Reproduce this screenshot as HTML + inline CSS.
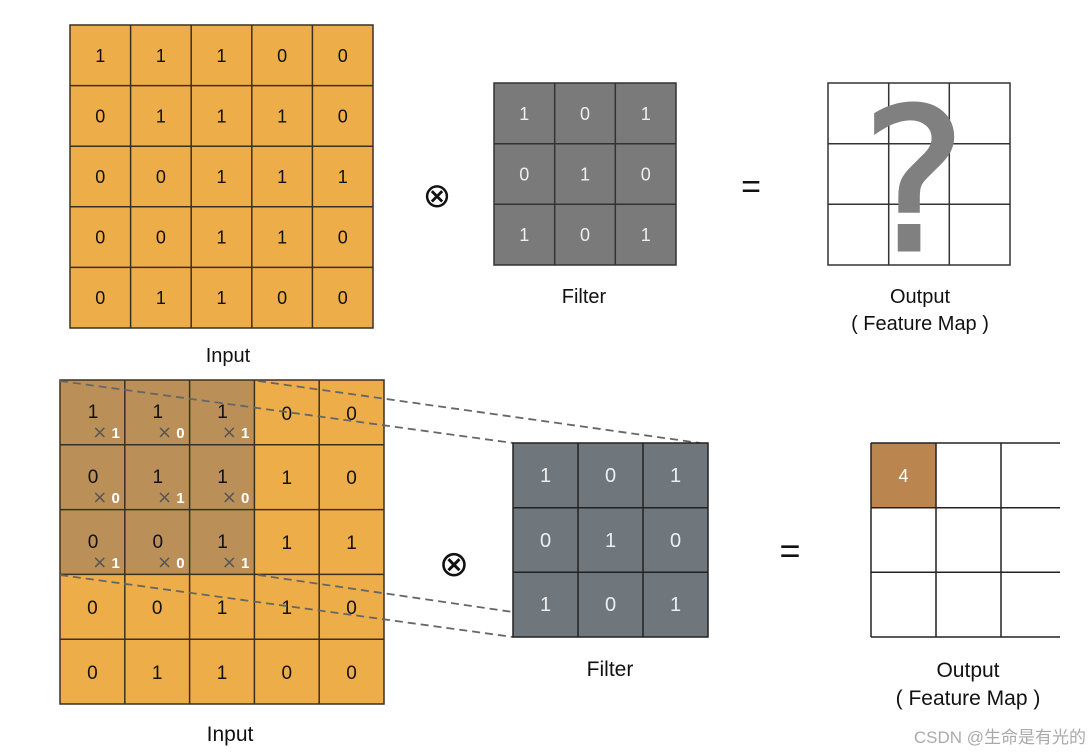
<!DOCTYPE html>
<html><head><meta charset="utf-8"><style>
html,body{margin:0;padding:0;background:#fff;width:1090px;height:752px;overflow:hidden}
svg{display:block}
text{font-family:"Liberation Sans",Arial,sans-serif}
</style></head><body>
<svg width="1090" height="752" viewBox="0 0 1090 752" xmlns="http://www.w3.org/2000/svg">
<!-- TOP INPUT -->
<rect x="70" y="25" width="303" height="303" fill="#EDAD48" stroke="#3a3020" stroke-width="1.5"/>
<g stroke="#3a3020" stroke-width="1.5">
<line x1="130.6" y1="25" x2="130.6" y2="328"/><line x1="191.2" y1="25" x2="191.2" y2="328"/><line x1="251.8" y1="25" x2="251.8" y2="328"/><line x1="312.4" y1="25" x2="312.4" y2="328"/>
<line x1="70" y1="85.6" x2="373" y2="85.6"/><line x1="70" y1="146.2" x2="373" y2="146.2"/><line x1="70" y1="206.8" x2="373" y2="206.8"/><line x1="70" y1="267.4" x2="373" y2="267.4"/>
</g>
<g font-size="18" fill="#111" text-anchor="middle">
<text x="100.3" y="62">1</text><text x="160.9" y="62">1</text><text x="221.5" y="62">1</text><text x="282.1" y="62">0</text><text x="342.7" y="62">0</text>
<text x="100.3" y="122.5">0</text><text x="160.9" y="122.5">1</text><text x="221.5" y="122.5">1</text><text x="282.1" y="122.5">1</text><text x="342.7" y="122.5">0</text>
<text x="100.3" y="183">0</text><text x="160.9" y="183">0</text><text x="221.5" y="183">1</text><text x="282.1" y="183">1</text><text x="342.7" y="183">1</text>
<text x="100.3" y="243.5">0</text><text x="160.9" y="243.5">0</text><text x="221.5" y="243.5">1</text><text x="282.1" y="243.5">1</text><text x="342.7" y="243.5">0</text>
<text x="100.3" y="304">0</text><text x="160.9" y="304">1</text><text x="221.5" y="304">1</text><text x="282.1" y="304">0</text><text x="342.7" y="304">0</text>
</g>
<text x="228" y="362" font-size="20" text-anchor="middle" fill="#111">Input</text>

<text x="437" y="207" font-size="34" text-anchor="middle" fill="#111">⊗</text>

<!-- TOP FILTER -->
<rect x="494" y="83" width="182" height="182" fill="#7A7A7A" stroke="#333" stroke-width="1.5"/>
<g stroke="#333" stroke-width="1.5">
<line x1="554.7" y1="83" x2="554.7" y2="265"/><line x1="615.3" y1="83" x2="615.3" y2="265"/>
<line x1="494" y1="143.7" x2="676" y2="143.7"/><line x1="494" y1="204.3" x2="676" y2="204.3"/>
</g>
<g font-size="18" fill="#eee" text-anchor="middle">
<text x="524.3" y="120">1</text><text x="585" y="120">0</text><text x="645.7" y="120">1</text>
<text x="524.3" y="180.5">0</text><text x="585" y="180.5">1</text><text x="645.7" y="180.5">0</text>
<text x="524.3" y="241">1</text><text x="585" y="241">0</text><text x="645.7" y="241">1</text>
</g>
<text x="584" y="303" font-size="20" text-anchor="middle" fill="#111">Filter</text>

<text x="751" y="198" font-size="34" text-anchor="middle" fill="#111">=</text>

<!-- TOP OUTPUT -->
<rect x="828" y="83" width="182" height="182" fill="#fff" stroke="#333" stroke-width="1.5"/>
<g stroke="#333" stroke-width="1.5">
<line x1="888.7" y1="83" x2="888.7" y2="265"/><line x1="949.3" y1="83" x2="949.3" y2="265"/>
<line x1="828" y1="143.7" x2="1010" y2="143.7"/><line x1="828" y1="204.3" x2="1010" y2="204.3"/>
</g>
<text x="914" y="250" font-size="198" text-anchor="middle" fill="#808080" stroke="#808080" stroke-width="3" style="font-family:'DejaVu Sans',sans-serif">?</text>
<text x="920" y="303" font-size="20" text-anchor="middle" fill="#111">Output</text>
<text x="920" y="330" font-size="20" text-anchor="middle" fill="#111">( Feature Map )</text>

<!-- BOTTOM INPUT -->
<rect x="60" y="380" width="324" height="324" fill="#EDAD48"/>
<rect x="60" y="380" width="194.4" height="194.4" fill="#BB9058"/>
<g stroke="#3a3020" stroke-width="1.5" fill="none">
<rect x="60" y="380" width="324" height="324"/>
<line x1="124.8" y1="380" x2="124.8" y2="704"/><line x1="189.6" y1="380" x2="189.6" y2="704"/><line x1="254.4" y1="380" x2="254.4" y2="704"/><line x1="319.2" y1="380" x2="319.2" y2="704"/>
<line x1="60" y1="444.8" x2="384" y2="444.8"/><line x1="60" y1="509.6" x2="384" y2="509.6"/><line x1="60" y1="574.4" x2="384" y2="574.4"/><line x1="60" y1="639.2" x2="384" y2="639.2"/>
</g>
<g font-size="19" fill="#111" text-anchor="middle">
<text x="93" y="418">1</text><text x="157.8" y="418">1</text><text x="222.6" y="418">1</text><text x="286.8" y="420">0</text><text x="351.6" y="420">0</text>
<text x="93" y="483">0</text><text x="157.8" y="483">1</text><text x="222.6" y="483">1</text><text x="286.8" y="484">1</text><text x="351.6" y="484">0</text>
<text x="93" y="548">0</text><text x="157.8" y="548">0</text><text x="222.6" y="548">1</text><text x="286.8" y="549">1</text><text x="351.6" y="549">1</text>
<text x="92.4" y="614">0</text><text x="157.2" y="614">0</text><text x="222" y="614">1</text><text x="286.8" y="614">1</text><text x="351.6" y="614">0</text>
<text x="92.4" y="679">0</text><text x="157.2" y="679">1</text><text x="222" y="679">1</text><text x="286.8" y="679">0</text><text x="351.6" y="679">0</text>
</g>
<g font-size="15" text-anchor="middle">
<text x="106" y="438"><tspan fill="#555" font-size="18" style="font-family:'DejaVu Sans',sans-serif">×</tspan><tspan fill="#fff" font-weight="bold"> 1</tspan></text>
<text x="170.8" y="438"><tspan fill="#555" font-size="18" style="font-family:'DejaVu Sans',sans-serif">×</tspan><tspan fill="#fff" font-weight="bold"> 0</tspan></text>
<text x="235.6" y="438"><tspan fill="#555" font-size="18" style="font-family:'DejaVu Sans',sans-serif">×</tspan><tspan fill="#fff" font-weight="bold"> 1</tspan></text>
<text x="106" y="503"><tspan fill="#555" font-size="18" style="font-family:'DejaVu Sans',sans-serif">×</tspan><tspan fill="#fff" font-weight="bold"> 0</tspan></text>
<text x="170.8" y="503"><tspan fill="#555" font-size="18" style="font-family:'DejaVu Sans',sans-serif">×</tspan><tspan fill="#fff" font-weight="bold"> 1</tspan></text>
<text x="235.6" y="503"><tspan fill="#555" font-size="18" style="font-family:'DejaVu Sans',sans-serif">×</tspan><tspan fill="#fff" font-weight="bold"> 0</tspan></text>
<text x="106" y="568"><tspan fill="#555" font-size="18" style="font-family:'DejaVu Sans',sans-serif">×</tspan><tspan fill="#fff" font-weight="bold"> 1</tspan></text>
<text x="170.8" y="568"><tspan fill="#555" font-size="18" style="font-family:'DejaVu Sans',sans-serif">×</tspan><tspan fill="#fff" font-weight="bold"> 0</tspan></text>
<text x="235.6" y="568"><tspan fill="#555" font-size="18" style="font-family:'DejaVu Sans',sans-serif">×</tspan><tspan fill="#fff" font-weight="bold"> 1</tspan></text>
</g>
<text x="230" y="741" font-size="21" text-anchor="middle" fill="#111">Input</text>

<!-- dashed connectors -->
<g stroke="#666" stroke-width="1.8" stroke-dasharray="8,5" fill="none">
<line x1="258" y1="381" x2="700" y2="443"/>
<line x1="60" y1="381" x2="513" y2="443"/>
<line x1="258" y1="575" x2="513" y2="612"/>
<line x1="60" y1="575" x2="513" y2="637"/>
</g>

<text x="454" y="576" font-size="36" text-anchor="middle" fill="#111">⊗</text>

<!-- BOTTOM FILTER -->
<rect x="513" y="443" width="195" height="194" fill="#6F777C" stroke="#222" stroke-width="1.5"/>
<g stroke="#222" stroke-width="1.5">
<line x1="578" y1="443" x2="578" y2="637"/><line x1="643" y1="443" x2="643" y2="637"/>
<line x1="513" y1="507.7" x2="708" y2="507.7"/><line x1="513" y1="572.3" x2="708" y2="572.3"/>
</g>
<g font-size="20" fill="#eee" text-anchor="middle">
<text x="545.5" y="482">1</text><text x="610.5" y="482">0</text><text x="675.5" y="482">1</text>
<text x="545.5" y="547">0</text><text x="610.5" y="547">1</text><text x="675.5" y="547">0</text>
<text x="545.5" y="611">1</text><text x="610.5" y="611">0</text><text x="675.5" y="611">1</text>
</g>
<text x="610" y="676" font-size="21" text-anchor="middle" fill="#111">Filter</text>

<text x="790" y="563" font-size="36" text-anchor="middle" fill="#111">=</text>

<!-- BOTTOM OUTPUT -->
<rect x="871" y="443" width="65" height="65" fill="#BB8550"/>
<g stroke="#222" stroke-width="1.5" fill="none">
<line x1="871" y1="443" x2="871" y2="637"/><line x1="936" y1="443" x2="936" y2="637"/><line x1="1001" y1="443" x2="1001" y2="637"/>
<line x1="871" y1="443" x2="1060" y2="443"/><line x1="871" y1="507.7" x2="1060" y2="507.7"/><line x1="871" y1="572.3" x2="1060" y2="572.3"/><line x1="871" y1="637" x2="1060" y2="637"/>
</g>
<text x="903.5" y="482" font-size="18" fill="#fff" text-anchor="middle">4</text>
<text x="968" y="677" font-size="21" text-anchor="middle" fill="#111">Output</text>
<text x="968" y="705" font-size="21" text-anchor="middle" fill="#111">( Feature Map )</text>

<text x="1086" y="743" font-size="17" text-anchor="end" fill="#aaa" font-family="'Liberation Sans','Noto Sans CJK SC',sans-serif">CSDN @生命是有光的</text>
</svg>
</body></html>
